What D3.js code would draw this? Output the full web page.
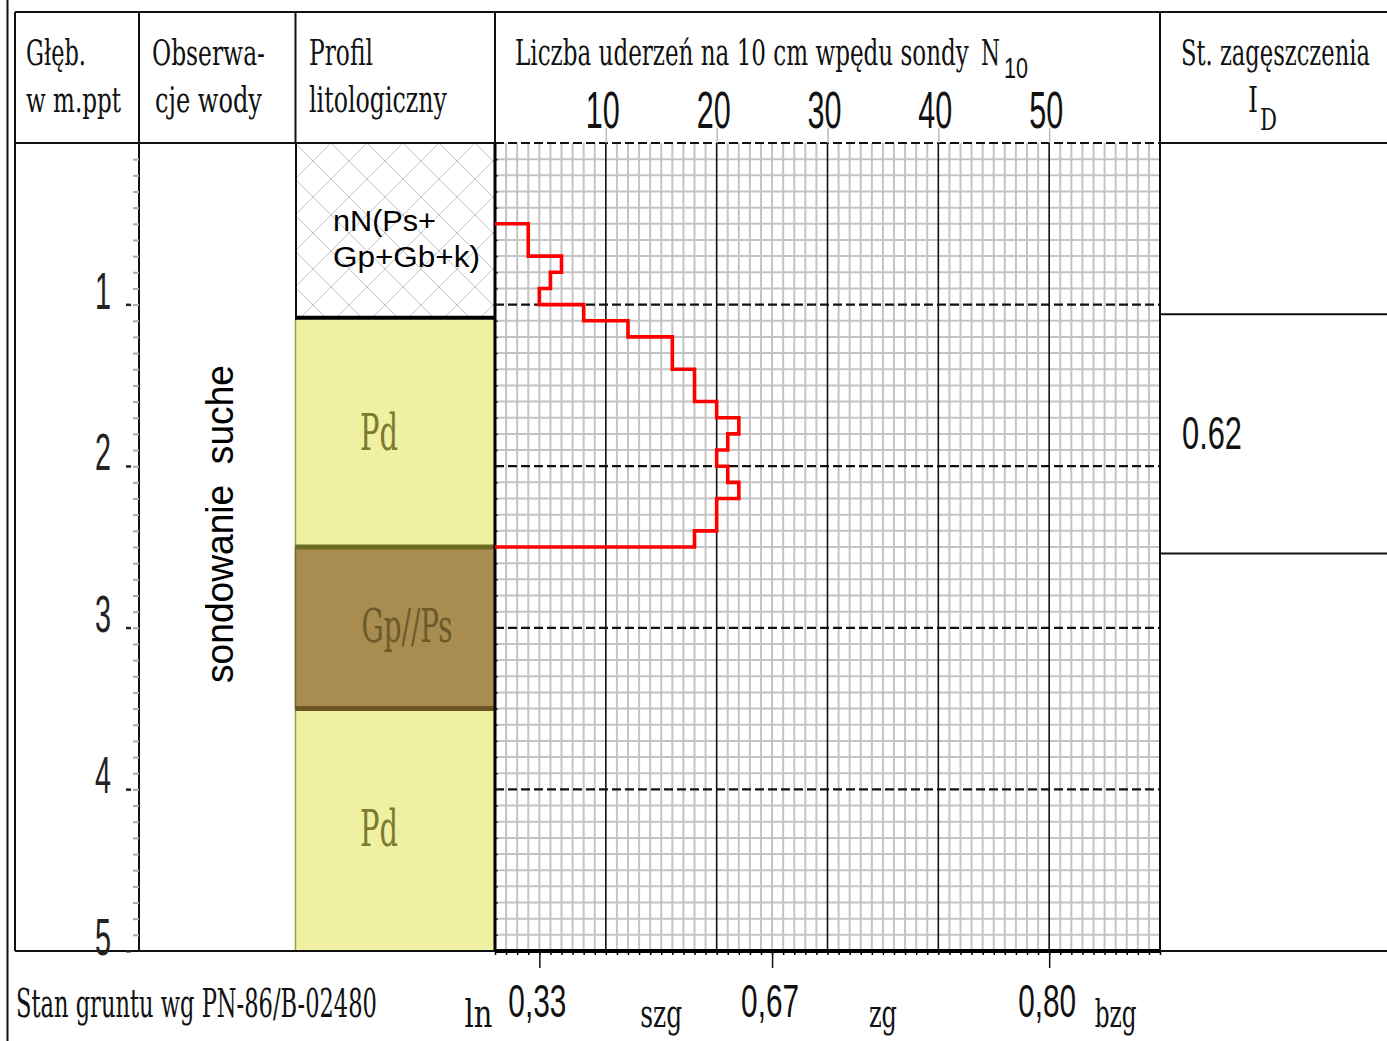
<!DOCTYPE html>
<html>
<head>
<meta charset="utf-8">
<script src="https://cdn.jsdelivr.net/npm/d3@7"></script>
<style>
body { margin: 0; background: #fff; }
svg { display: block; }
</style>
</head>
<body>
<svg width="1387" height="1041"></svg>
<script>
// dane sondowania: strop każdego 10 cm odcinka (m) i liczba uderzeń N10
var depthTop = [0.5, 0.6, 0.7, 0.8, 0.9, 1.0, 1.1, 1.2, 1.3, 1.4, 1.5, 1.6, 1.7, 1.8, 1.9, 2.0, 2.1, 2.2, 2.3, 2.4];
var blows = [3, 3, 6, 5, 4, 8, 12, 16, 16, 18, 18, 20, 22, 21, 20, 21, 22, 20, 20, 18];

var nTicks = [10, 20, 30, 40, 50];
var depthTicks = [1, 2, 3, 4, 5];

// profil litologiczny
var layerTop = [0, 1.09, 2.5, 3.5];
var layerBottom = [1.09, 2.5, 3.5, 5];
var layerName = ["nN(Ps+", "Pd", "Gp//Ps", "Pd"];

// stopień zagęszczenia
var idTop = [1.06];
var idBottom = [2.54];
var idValue = ["0.62"];

// stan gruntu wg PN-86/B-02480
var stateN = [4, 25, 50];
var stateID = ["0,33", "0,67", "0,80"];
var stateName = ["ln", "szg", "zg", "bzg"];
var stateNameN = [-1.5, 15, 35, 56];

var serif = "DejaVu Serif", sans = "Liberation Sans";
var layerFill = ["url(#hatch)", "#f0f0a2", "#a98c50", "#f0f0a2"];
var layerInk = ["#000", "#7a7a30", "#6c5a2a", "#7a7a30"];

var svg = d3.select("svg");

var x = d3.scaleLinear().domain([0, 60]).range([495, 1160]),
    y = d3.scaleLinear().domain([0, 5]).range([143, 951]);

// sciska tekst w poziomie do zadanej szerokosci (transform zamiast textLength)
function fit(sel, width) {
    sel.each(function (d, i) {
        var t = d3.select(this),
            px = +t.attr("x") || 0,
            py = +t.attr("y") || 0,
            w = typeof width === "function" ? width(d, i) : width,
            nat = this.getComputedTextLength();
        t.attr("x", 0).attr("y", 0)
            .attr("transform", "translate(" + px + "," + py + ") scale(" + (w / nat) + ",1)");
    });
    return sel;
}

function label(g, txt, px, py, size, family, width, anchor, fill) {
    var t = g.append("text")
        .attr("x", px).attr("y", py)
        .attr("font-size", size)
        .attr("font-family", family)
        .attr("text-anchor", anchor || "start")
        .attr("fill", fill || "#111")
        .text(txt);
    if (width) fit(t, width);
    return t;
}

var defs = svg.append("defs");
var pat = defs.append("pattern").attr("id", "hatch")
    .attr("patternUnits", "userSpaceOnUse")
    .attr("x", 295).attr("y", 143).attr("width", 36).attr("height", 36);
pat.append("path").attr("d", "M0,0L36,36M36,0L0,36")
    .attr("stroke", "#c4c4c4").attr("stroke-width", 1);

// siatka
var grid = svg.append("g");
var minorN = d3.range(1, 60).filter(function (d) { return d % 10 !== 0; });
var minorD = d3.range(1, 50).filter(function (d) { return d % 10 !== 0; }).map(function (d) { return d / 10; });

grid.selectAll(".vmin").data(minorN).enter().append("line")
    .attr("x1", function (d) { return x(d); }).attr("x2", function (d) { return x(d); })
    .attr("y1", y(0)).attr("y2", y(5))
    .attr("stroke", "#c4c4c4").attr("stroke-width", 2);
grid.selectAll(".hmin").data(minorD).enter().append("line")
    .attr("x1", x(0)).attr("x2", x(60))
    .attr("y1", function (d) { return y(d); }).attr("y2", function (d) { return y(d); })
    .attr("stroke", "#c4c4c4").attr("stroke-width", 2);
grid.selectAll(".vmaj").data(nTicks).enter().append("line")
    .attr("x1", function (d) { return x(d); }).attr("x2", function (d) { return x(d); })
    .attr("y1", y(0)).attr("y2", y(5))
    .attr("stroke", "#111").attr("stroke-width", 1.6);
grid.selectAll(".hmaj").data([0, 1, 2, 3, 4]).enter().append("line")
    .attr("x1", x(0)).attr("x2", x(60))
    .attr("y1", function (d) { return y(d); }).attr("y2", function (d) { return y(d); })
    .attr("stroke", "#111").attr("stroke-width", 2.2).attr("stroke-dasharray", "9,4");

// profil litologiczny
var layers = svg.append("g");
layers.selectAll("rect").data(layerName).enter().append("rect")
    .attr("x", 295).attr("width", 200)
    .attr("y", function (d, i) { return y(layerTop[i]); })
    .attr("height", function (d, i) { return y(layerBottom[i]) - y(layerTop[i]); })
    .attr("fill", function (d, i) { return layerFill[i]; });

layers.append("line").attr("x1", 295.5).attr("x2", 295.5).attr("y1", y(layerTop[1])).attr("y2", y(5))
    .attr("stroke", "#a0a040").attr("stroke-width", 1.5);
layers.append("line").attr("x1", 295.5).attr("x2", 295.5).attr("y1", y(layerTop[2])).attr("y2", y(layerBottom[2]))
    .attr("stroke", "#7a6228").attr("stroke-width", 1.5);
layers.append("line").attr("x1", 296).attr("x2", 296).attr("y1", y(0)).attr("y2", y(layerBottom[0]))
    .attr("stroke", "#111").attr("stroke-width", 2);
layers.append("line").attr("x1", 295).attr("x2", 495).attr("y1", y(layerBottom[0]) - 1.5).attr("y2", y(layerBottom[0]) - 1.5)
    .attr("stroke", "#000").attr("stroke-width", 4);
layers.append("line").attr("x1", 295).attr("x2", 495).attr("y1", y(layerBottom[1])).attr("y2", y(layerBottom[1]))
    .attr("stroke", "#6b6b22").attr("stroke-width", 5);
layers.append("line").attr("x1", 295).attr("x2", 495).attr("y1", y(layerBottom[2])).attr("y2", y(layerBottom[2]))
    .attr("stroke", "#6b5520").attr("stroke-width", 5);

label(layers, layerName[0], 333, 230.7, 29, sans, 103, "start", "#000");
label(layers, "Gp+Gb+k)", 333, 266.7, 29, sans, 147, "start", "#000");
label(layers, layerName[1], 379, y((layerTop[1] + layerBottom[1]) / 2) + 17, 50, serif, 38, "middle", layerInk[1]);
label(layers, layerName[2], 407, y((layerTop[2] + layerBottom[2]) / 2) + 14, 46, serif, 91, "middle", layerInk[2]);
label(layers, layerName[3], 379, y((layerTop[3] + layerBottom[3]) / 2) + 16, 50, serif, 38, "middle", layerInk[3]);

// krawedzie siatki
var edges = svg.append("g");
edges.append("g").attr("transform", "translate(" + x(0) + ",0)")
    .call(d3.axisRight(y).tickValues(d3.range(1, 50).map(function (d) { return d / 10; })).tickSize(3).tickFormat(""))
    .call(function (g) { g.select(".domain").remove(); g.selectAll(".tick line").attr("stroke", "#444").attr("stroke-width", 1.5); });
edges.append("line").attr("x1", x(0)).attr("x2", x(0)).attr("y1", y(0)).attr("y2", y(5))
    .attr("stroke", "#000").attr("stroke-width", 3);
edges.append("line").attr("x1", x(60)).attr("x2", x(60)).attr("y1", 12).attr("y2", y(5))
    .attr("stroke", "#111").attr("stroke-width", 2);
edges.append("g").attr("transform", "translate(0," + y(5) + ")")
    .call(d3.axisBottom(x).tickValues(d3.range(0, 61)).tickSize(4).tickFormat(""))
    .call(function (g) { g.select(".domain").remove(); g.selectAll(".tick line").attr("stroke", "#000").attr("stroke-width", 1.5); });
edges.append("line").attr("x1", x(0)).attr("x2", x(60)).attr("y1", y(5)).attr("y2", y(5))
    .attr("stroke", "#000").attr("stroke-width", 4);

// krzywa sondowania
var pts = [[0, depthTop[0]]];
depthTop.forEach(function (d, i) {
    pts.push([blows[i], d]);
    pts.push([blows[i], d + 0.1]);
});
pts.push([0, depthTop[depthTop.length - 1] + 0.1]);

svg.append("path").datum(pts)
    .attr("fill", "none").attr("stroke", "#ff0000").attr("stroke-width", 3.6)
    .attr("d", d3.line().x(function (p) { return x(p[0]); }).y(function (p) { return y(p[1]); }));

// ramka tabeli
var frame = svg.append("g").attr("stroke", "#111").attr("stroke-width", 2);
frame.append("line").attr("x1", 7.5).attr("x2", 7.5).attr("y1", 0).attr("y2", 1041);
frame.append("line").attr("x1", 15).attr("x2", 1387).attr("y1", 12).attr("y2", 12);
frame.append("line").attr("x1", 15).attr("x2", 15).attr("y1", 12).attr("y2", 951);
frame.append("line").attr("x1", 15).attr("x2", 495).attr("y1", 143).attr("y2", 143);
frame.append("line").attr("x1", 1160).attr("x2", 1387).attr("y1", 143).attr("y2", 143);
frame.append("line").attr("x1", 139).attr("x2", 139).attr("y1", 12).attr("y2", 951);
frame.append("line").attr("x1", 295.5).attr("x2", 295.5).attr("y1", 12).attr("y2", 143);
frame.append("line").attr("x1", 495).attr("x2", 495).attr("y1", 12).attr("y2", 143);
frame.append("line").attr("x1", 15).attr("x2", 495).attr("y1", 951).attr("y2", 951);
frame.append("line").attr("x1", 1160).attr("x2", 1387).attr("y1", 951).attr("y2", 951);

// kolumna glebokosci
var depthAxis = svg.append("g").attr("transform", "translate(139,0)")
    .call(d3.axisLeft(y).tickValues(d3.range(1, 50).map(function (d) { return d / 10; })).tickSize(6).tickFormat(""));
depthAxis.select(".domain").remove();
depthAxis.selectAll(".tick line").attr("stroke", "#aaa").attr("stroke-width", 2);

var depthLabels = svg.append("g");
depthLabels.selectAll("rect").data(depthTicks).enter().append("rect")
    .attr("x", 126).attr("width", 5)
    .attr("y", function (d) { return y(d) - 1; }).attr("height", 2.5)
    .attr("fill", "#222");
fit(depthLabels.selectAll("text").data(depthTicks).enter().append("text")
    .attr("x", 111).attr("y", function (d) { return y(d) + 4; })
    .attr("text-anchor", "end")
    .attr("font-family", sans).attr("font-size", 51).attr("fill", "#222")
    .text(function (d) { return d; }), 16);

// obserwacje wody
var obs = svg.append("text")
    .attr("text-anchor", "middle")
    .attr("font-family", sans).attr("font-size", 38).attr("fill", "#000")
    .style("white-space", "pre")
    .text("sondowanie  suche");
obs.attr("transform", "translate(233,524) rotate(-90) scale(" + (318 / obs.node().getComputedTextLength()) + ",1)");

// naglowek
var head = svg.append("g");
label(head, "Głęb.", 26, 65, 36, serif, 60);
label(head, "w m.ppt", 26, 112, 36, serif, 95);
label(head, "Obserwa-", 152, 65, 36, serif, 113);
label(head, "cje wody", 155, 112, 36, serif, 107);
label(head, "Profil", 309, 65, 36, serif, 64);
label(head, "litologiczny", 309, 112, 36, serif, 138);
label(head, "Liczba uderzeń na 10 cm wpędu sondy", 515, 65, 36, serif, 454);
label(head, "N", 981, 65, 36, serif, 19);
label(head, "10", 1004, 78, 30, sans, 24);
label(head, "St. zagęszczenia", 1181, 65, 36, serif, 189);
label(head, "I", 1248, 112, 36, serif, 10);
label(head, "D", 1260, 130, 30, serif, 17);

var topAxis = svg.append("g").attr("transform", "translate(0," + y(0) + ")")
    .call(d3.axisTop(x).tickValues(nTicks).tickSize(15).tickPadding(0));
topAxis.select(".domain").remove();
topAxis.selectAll(".tick line").attr("stroke", "#bbb").attr("stroke-width", 1.5);
fit(topAxis.selectAll(".tick text")
    .attr("y", -14.7).attr("dy", 0).attr("x", -3.5)
    .attr("font-family", sans).attr("font-size", 51).attr("fill", "#111"), 34);

// stopien zageszczenia
var idCol = svg.append("g");
idCol.selectAll("line.id").data(idTop.concat(idBottom)).enter().append("line")
    .attr("x1", 1160).attr("x2", 1387)
    .attr("y1", function (d) { return y(d); }).attr("y2", function (d) { return y(d); })
    .attr("stroke", "#111").attr("stroke-width", 2);
fit(idCol.selectAll("text").data(idValue).enter().append("text")
    .attr("x", 1182).attr("y", function (d, i) { return (y(idTop[i]) + y(idBottom[i])) / 2 + 15; })
    .attr("font-family", sans).attr("font-size", 46).attr("fill", "#111")
    .text(function (d) { return d; }), 60);

// stan gruntu
var state = svg.append("g");
label(state, "Stan gruntu wg PN-86/B-02480", 16, 1017, 40, serif, 361);
var stateAxis = state.append("g").attr("transform", "translate(0," + y(5) + ")")
    .call(d3.axisBottom(x).tickValues(stateN).tickSize(17).tickPadding(0)
        .tickFormat(function (d, i) { return stateID[i]; }));
stateAxis.select(".domain").remove();
stateAxis.selectAll(".tick line").attr("stroke", "#111").attr("stroke-width", 1.5);
fit(stateAxis.selectAll(".tick text")
    .attr("y", 66).attr("dy", 0).attr("x", -2.5)
    .attr("font-family", sans).attr("font-size", 46).attr("fill", "#111"), 58);
fit(state.selectAll("text.nm").data(stateName).enter().append("text")
    .attr("class", "nm")
    .attr("x", function (d, i) { return x(stateNameN[i]); }).attr("y", 1027)
    .attr("text-anchor", "middle")
    .attr("font-family", serif).attr("font-size", 40).attr("fill", "#111")
    .text(function (d) { return d; }), function (d) { return d.length * 14; });
</script>
</body>
</html>
